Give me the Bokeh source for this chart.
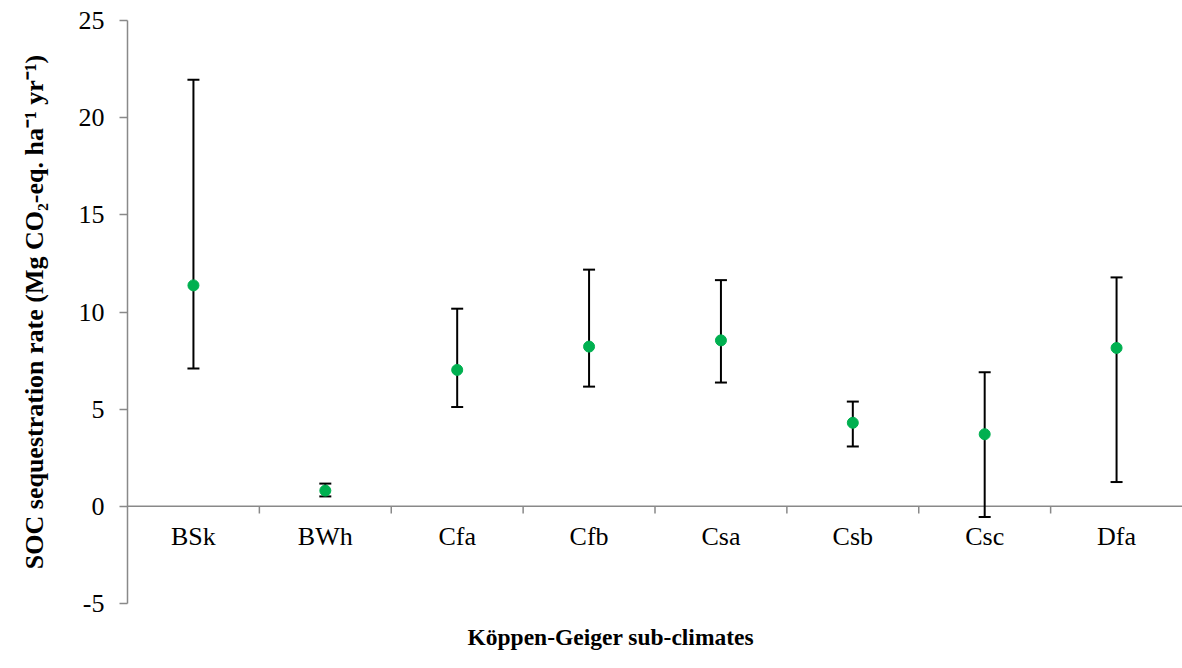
from bokeh.plotting import figure
from bokeh.models import (ColumnDataSource, FactorRange, Range1d, FixedTicker, Span,
                          Whisker, TeeHead, Title)
from bokeh.transform import dodge
from bokeh.embed import file_html
from bokeh.resources import INLINE

categories = ["BSk", "BWh", "Cfa", "Cfb", "Csa", "Csb", "Csc", "Dfa"]
mean_rate = [11.37, 0.81, 7.02, 8.22, 8.54, 4.30, 3.71, 8.15]
upper_ci = [21.95, 1.17, 10.17, 12.18, 11.64, 5.39, 6.90, 11.78]
lower_ci = [7.09, 0.51, 5.11, 6.16, 6.37, 3.08, -0.55, 1.25]
y_ticks = [-5, 0, 5, 10, 15, 20, 25]

AXIS_GRAY = "#898989"
FONT = "Liberation Serif"

src = ColumnDataSource(dict(cat=categories, mean=mean_rate, upper=upper_ci, lower=lower_ci))

p = figure(width=1182, height=668, x_range=FactorRange(*categories), y_range=Range1d(-5, 25),
           output_backend="svg", toolbar_location=None,
           min_border_left=127, min_border_right=0, min_border_top=20, min_border_bottom=65)
p.outline_line_color = None
p.grid.visible = False
p.background_fill_color = "white"

# y axis
ya = p.yaxis[0]
ya.ticker = FixedTicker(ticks=y_ticks)
ya.major_label_overrides = {t: str(t) for t in y_ticks}
ya.axis_line_color = AXIS_GRAY
ya.axis_line_width = 1.5
ya.major_tick_line_color = AXIS_GRAY
ya.major_tick_line_width = 1.5
ya.major_tick_out = 8
ya.major_tick_in = 0
ya.minor_tick_line_color = None
ya.major_label_standoff = 15
ya.major_label_text_font = FONT
ya.major_label_text_font_size = "26px"
ya.major_label_text_color = "black"
ya.axis_label = "SOC sequestration rate (Mg CO\u2082-eq. ha\u207b\u00b9 yr\u207b\u00b9)"
ya.axis_label_text_font = FONT
ya.axis_label_text_font_style = "bold"
ya.axis_label_text_font_size = "26px"
ya.axis_label_text_color = "black"
ya.axis_label_standoff = 27

# x axis (labels only; its line is drawn at y = 0)
xa = p.xaxis[0]
xa.axis_line_color = None
xa.major_tick_line_color = None
xa.minor_tick_line_color = None
xa.major_label_standoff = -88
xa.major_label_text_font = FONT
xa.major_label_text_font_size = "26px"
xa.major_label_text_color = "black"

zero = Span(location=0, dimension="width", line_color=AXIS_GRAY, line_width=1.5, level="underlay")
p.add_layout(zero)

tick_src = ColumnDataSource(dict(cat=categories[:-1]))
p.segment(x0=dodge("cat", 0.5, range=p.x_range), x1=dodge("cat", 0.5, range=p.x_range),
          y0=0, y1=-0.37, source=tick_src, line_color=AXIS_GRAY, line_width=1.5, level="underlay")

wh = Whisker(source=src, base="cat", upper="upper", lower="lower", dimension="height",
             line_color="black", line_width=2, level="underlay",
             upper_head=TeeHead(size=12, line_color="black", line_width=2),
             lower_head=TeeHead(size=12, line_color="black", line_width=2))
p.add_layout(wh)

p.scatter(x="cat", y="mean", source=src, size=11, fill_color="#00B050", line_color="#00B050")

t = Title(text="Köppen-Geiger sub-climates", align="left", offset=340, standoff=37,
          text_font=FONT, text_font_style="bold", text_font_size="23.5px", text_color="black")
p.add_layout(t, "below")

open("out.html", "w").write(file_html(p, INLINE))
